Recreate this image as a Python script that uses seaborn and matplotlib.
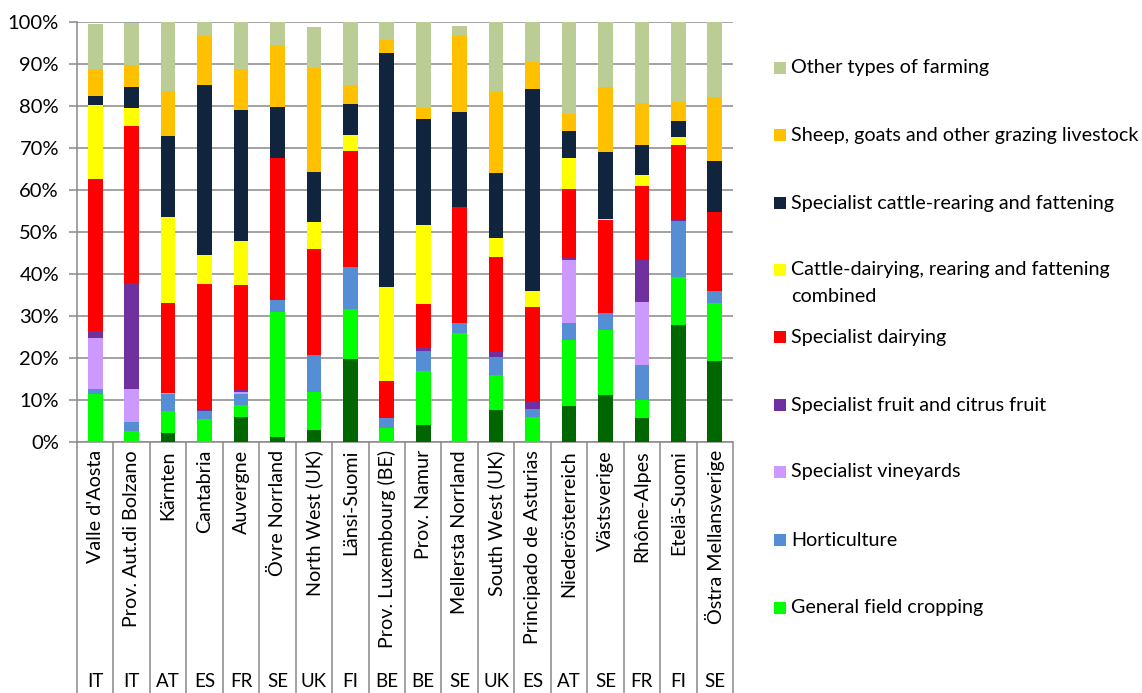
import numpy as np
import pandas as pd
import matplotlib
matplotlib.use("Agg")
import matplotlib.pyplot as plt
import seaborn as sns
from matplotlib.patches import Rectangle

regions = ["Valle d'Aosta", "Prov. Aut.di Bolzano", "Kärnten", "Cantabria", "Auvergne",
           "Övre Norrland", "North West (UK)", "Länsi-Suomi", "Prov. Luxembourg (BE)",
           "Prov. Namur", "Mellersta Norrland", "South West (UK)", "Principado de Asturias",
           "Niederösterreich", "Västsverige", "Rhône-Alpes", "Etelä-Suomi", "Östra Mellansverige"]
countries = ["IT", "IT", "AT", "ES", "FR", "SE", "UK", "FI", "BE", "BE", "SE", "UK", "ES",
             "AT", "SE", "FR", "FI", "SE"]

# shares in % (bottom to top)
cereals  = [0, 0, 2.1, 0, 5.9, 1.1, 2.9, 19.7, 0, 4.0, 0, 7.6, 0, 8.6, 11.1, 5.7, 27.9, 19.2]
field    = [11.3, 2.6, 5.2, 5.3, 2.8, 29.8, 9.0, 11.8, 3.3, 12.9, 25.9, 8.3, 6.0, 15.6, 15.6, 4.2, 11.3, 13.9]
hortic   = [1.2, 2.2, 4.0, 2.1, 2.6, 2.8, 8.8, 10.2, 2.3, 4.6, 2.4, 4.3, 1.9, 4.1, 3.9, 8.3, 13.3, 2.8]
vineyard = [12.1, 7.7, 0.2, 0, 0.6, 0, 0, 0, 0, 0, 0, 0, 0, 15.0, 0, 15.0, 0, 0]
fruit    = [1.8, 25.2, 0, 0.2, 0.4, 0, 0, 0, 0, 1.0, 0, 1.1, 1.8, 0.5, 0, 10.1, 0.4, 0]
dairy    = [36.2, 37.5, 21.5, 30.0, 25.0, 33.9, 25.2, 27.4, 8.8, 10.4, 27.5, 22.7, 22.4, 16.3, 22.3, 17.5, 17.7, 18.7]
combined = [17.6, 4.3, 20.5, 6.8, 10.4, 0, 6.3, 4.0, 22.4, 18.7, 0, 4.6, 3.8, 7.5, 0.2, 2.8, 2.0, 0]
rearing  = [2.1, 4.9, 19.4, 40.6, 31.3, 12.2, 12.0, 7.3, 55.7, 25.3, 22.7, 15.4, 48.1, 6.4, 15.9, 7.0, 3.7, 12.3]
sheep    = [6.4, 5.3, 10.6, 11.7, 9.7, 14.7, 24.7, 4.6, 3.2, 2.6, 18.3, 19.6, 6.3, 4.1, 15.4, 10.1, 4.6, 15.1]
other    = [10.7, 10.1, 16.5, 3.3, 11.3, 5.5, 9.8, 15.0, 4.3, 20.5, 2.1, 16.4, 9.7, 21.9, 15.6, 19.3, 19.1, 18.0]

series_names = ["Specialist cereals, oilseed and protein crops", "General field cropping",
                "Horticulture", "Specialist vineyards", "Specialist fruit and citrus fruit",
                "Specialist dairying", "Cattle-dairying, rearing and fattening\ncombined",
                "Specialist cattle-rearing and fattening", "Sheep, goats and other grazing livestock",
                "Other types of farming"]
series_vals = [cereals, field, hortic, vineyard, fruit, dairy, combined, rearing, sheep, other]
series_colors = ["#006600", "#00FF00", "#558ED5", "#CC99FF", "#7030A0", "#FF0000",
                 "#FFFF00", "#10243E", "#FFC000", "#BBCD95"]

sns.set_theme(style="white")
plt.rcParams['font.family'] = ['Lato', 'DejaVu Sans']

W, H = 1142, 693
fig = plt.figure(figsize=(W / 100, H / 100), dpi=100)
ax_l, ax_r, ax_t, ax_b = 77, 733, 21.7, 441.7
ax = fig.add_axes([ax_l / W, (H - ax_b) / H, (ax_r - ax_l) / W, (ax_b - ax_t) / H])

grid_c = "#898989"
cum = np.cumsum(np.array(series_vals, dtype=float), axis=0)
for i in range(len(series_vals) - 1, -1, -1):
    df = pd.DataFrame({"region": regions, "value": cum[i]})
    sns.barplot(data=df, x="region", y="value", order=regions, color=series_colors[i],
                saturation=1, width=0.40, errorbar=None, linewidth=0, ax=ax, zorder=3)

ax.set_xlim(-0.5, len(regions) - 0.5)
ax.set_ylim(0, 100)
ax.set_yticks(range(0, 101, 10))
ax.set_yticklabels([f"{v}%" for v in range(0, 101, 10)], fontsize=14.5)
ax.set_xlabel("")
ax.set_ylabel("")
ax.yaxis.grid(True, color=grid_c, lw=1.1)
ax.xaxis.grid(False)
ax.set_axisbelow(True)
for s in ["top", "right"]:
    ax.spines[s].set_visible(False)
for s in ["left", "bottom"]:
    ax.spines[s].set_color(grid_c)
    ax.spines[s].set_linewidth(1.1)
ax.tick_params(axis="y", left=True, length=6, width=1.1, color=grid_c, pad=7, labelcolor="#000000")
ax.set_xticks(range(len(regions)))
ax.set_xticklabels(regions, rotation=90, fontsize=14.2, va="top", ha="center")
ax.tick_params(axis="x", bottom=False, length=0, pad=6, labelcolor="#000000")

# category separators (two-level axis)
bounds = np.arange(len(regions) + 1) - 0.5
ax.vlines(bounds, -0.62, 0, transform=ax.get_xaxis_transform(), colors=grid_c,
          lw=1.1, clip_on=False)
for i, c in enumerate(countries):
    ax.text(i, -0.570, c, transform=ax.get_xaxis_transform(), ha="center", va="center",
            fontsize=13.5, color="#000000")

# legend (top to bottom, as in the original)
leg_y = [68, 135, 203, 270, 337, 405, 472, 540, 608]
leg_idx = [9, 8, 7, 6, 5, 4, 3, 2, 1]
for y, idx in zip(leg_y, leg_idx):
    fig.patches.append(Rectangle((774 / W, (H - y - 6) / H), 12 / W, 12 / H,
                                 transform=fig.transFigure, facecolor=series_colors[idx],
                                 edgecolor="none", figure=fig))
    lines = series_names[idx].split("\n")
    for k, line in enumerate(lines):
        fig.text(791 / W, (H - y - 26 * k) / H, line, ha="left", va="center",
                 fontsize=14.2, color="#000000")

fig.savefig("out.png", dpi=100)
